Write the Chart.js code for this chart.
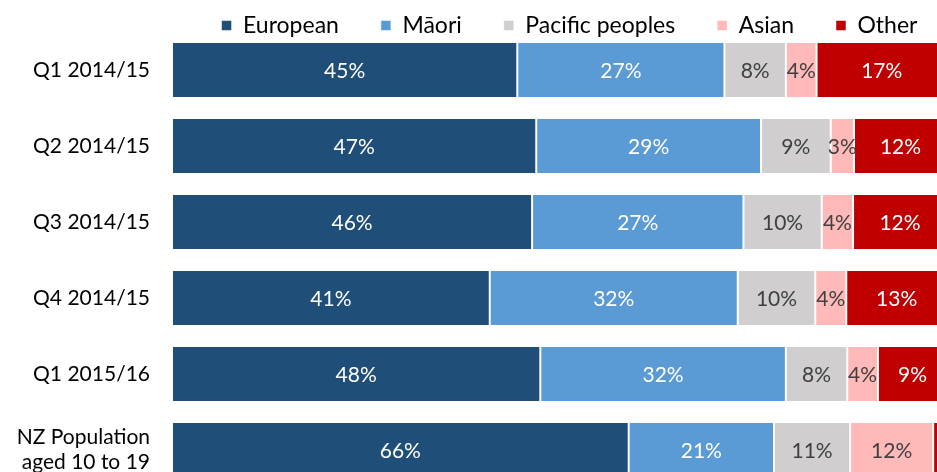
<!DOCTYPE html>
<html lang="en">
<head>
    <meta charset="UTF-8">
    <title>Ethnicity by quarter</title>
    <style>
        html, body {
            margin: 0;
            padding: 0;
            overflow: hidden;
            background: #ffffff;
        }
        #wrap {
            position: absolute;
            left: 0;
            top: 0;
            width: 960px;
            height: 490px;
        }
    </style>
    <script src="https://cdn.jsdelivr.net/npm/chart.js"></script>
</head>
<body>
    <div id="wrap"><canvas id="myChart"></canvas></div>

    <script>
        // categories (y axis)
        const categories = [
            'Q1 2014/15',
            'Q2 2014/15',
            'Q3 2014/15',
            'Q4 2014/15',
            'Q1 2015/16',
            ['NZ Population', 'aged 10 to 19']
        ];

        // series values, in percent as labelled
        const european = [45, 47, 46, 41, 48, 66];
        const maori    = [27, 29, 27, 32, 32, 21];
        const pacific  = [8, 9, 10, 10, 8, 11];
        const asian    = [4, 3, 4, 4, 4, 12];
        const other    = [17, 12, 12, 13, 9, 2];

        const seriesNames  = ['European', 'Māori', 'Pacific peoples', 'Asian', 'Other'];
        const seriesValues = [european, maori, pacific, asian, other];
        const seriesColors = ['#1F4E79', '#5B9BD5', '#D0CECE', '#FFB9B9', '#C00000'];
        const labelColors  = ['#ffffff', '#ffffff', '#404040', '#404040', '#ffffff'];

        const FONT = "Lato, 'Open Sans', sans-serif";
        const LEGEND_PAD = 42;

        // 100% stacked: each bar is scaled to its own total
        const totals = categories.map((c, i) => seriesValues.reduce((s, arr) => s + arr[i], 0));

        const datasets = seriesNames.map((name, k) => ({
            label: name,
            data: seriesValues[k].map((v, i) => v / totals[i] * 100),
            raw: seriesValues[k],
            backgroundColor: seriesColors[k],
            borderColor: '#ffffff',
            borderWidth: { left: 1, right: 1, top: 0, bottom: 0 },
            borderSkipped: false,
            barPercentage: 0.71,
            categoryPercentage: 1.0
        }));

        // draws the value in the middle of each segment
        const segmentLabels = {
            id: 'segmentLabels',
            afterDatasetsDraw(chart) {
                const ctx = chart.ctx;
                ctx.save();
                ctx.font = '21px ' + FONT;
                ctx.textAlign = 'center';
                ctx.textBaseline = 'middle';
                chart.data.datasets.forEach((ds, k) => {
                    const meta = chart.getDatasetMeta(k);
                    meta.data.forEach((bar, i) => {
                        const w = Math.abs(bar.x - bar.base);
                        if (w < 18) return;
                        ctx.fillStyle = labelColors[k];
                        ctx.fillText(ds.raw[i] + '%', (bar.x + bar.base) / 2, bar.y + 1);
                    });
                });
                ctx.restore();
            }
        };

        // one row with wide gaps, but a short legend box
        const compactLegend = {
            id: 'compactLegend',
            afterInit(chart) {
                const lg = chart.legend;
                if (!lg) return;
                const fit = lg.fit.bind(lg);
                lg.fit = function () {
                    this.maxWidth = 5000;
                    fit();
                    this.height = 32;
                };
                const draw = lg.draw.bind(lg);
                lg.draw = function () {
                    const t = this.top, b = this.bottom, l = this.left, r = this.right;
                    const rowW = this.lineWidths[0];
                    const area = chart.chartArea;
                    const cx = (area.left + area.right) / 2 + 10;
                    const x0 = cx - (rowW - LEGEND_PAD) / 2;
                    this.top = t - (LEGEND_PAD - 14);
                    this.bottom = b + 10;
                    this.left = x0 - LEGEND_PAD;
                    this.right = x0 + rowW + 200;
                    draw();
                    this.top = t;
                    this.bottom = b;
                    this.left = l;
                    this.right = r;
                };
            }
        };

        const ctx = document.getElementById('myChart').getContext('2d');
        const myChart = new Chart(ctx, {
            type: 'bar',
            data: {
                labels: categories,
                datasets: datasets
            },
            options: {
                indexAxis: 'y',
                responsive: true,
                maintainAspectRatio: false,
                animation: false,
                layout: {
                    padding: { left: 0, right: 13, top: 0, bottom: 2 }
                },
                scales: {
                    x: {
                        stacked: true,
                        display: false,
                        min: 0,
                        max: 100
                    },
                    y: {
                        stacked: true,
                        grid: { display: false, drawTicks: false },
                        border: { display: false },
                        ticks: {
                            color: '#000000',
                            padding: 22,
                            font: { family: FONT, size: 21 }
                        },
                        afterFit(scale) {
                            scale.width = 172;
                            scale.paddingTop = 0;
                            scale.paddingBottom = 0;
                        }
                    }
                },
                plugins: {
                    legend: {
                        position: 'top',
                        align: 'start',
                        fullSize: false,
                        labels: {
                            color: '#000000',
                            boxWidth: 10,
                            boxHeight: 10,
                            padding: LEGEND_PAD,
                            font: { family: FONT, size: 23 }
                        }
                    },
                    tooltip: { enabled: false }
                }
            },
            plugins: [segmentLabels, compactLegend]
        });
    </script>
</body>
</html>
